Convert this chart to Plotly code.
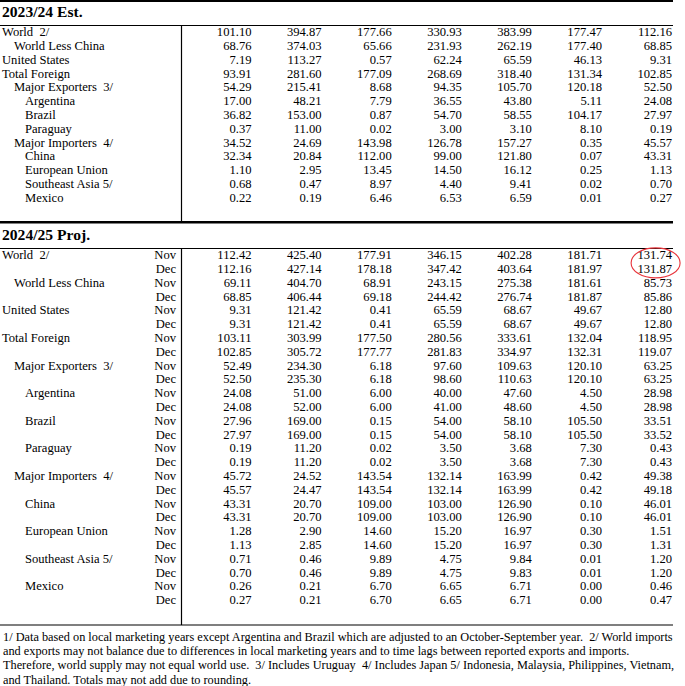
import plotly.graph_objects as go

# row labels and indent level (0 = flush left)
row_labels = ["World  2/", "World Less China", "United States", "Total Foreign",
              "Major Exporters  3/", "Argentina", "Brazil", "Paraguay",
              "Major Importers  4/", "China", "European Union", "Southeast Asia 5/", "Mexico"]
row_indent = [0, 1, 0, 0, 1, 2, 2, 2, 1, 2, 2, 2, 2]

est_2324 = [
    [101.10, 394.87, 177.66, 330.93, 383.99, 177.47, 112.16],
    [68.76, 374.03, 65.66, 231.93, 262.19, 177.40, 68.85],
    [7.19, 113.27, 0.57, 62.24, 65.59, 46.13, 9.31],
    [93.91, 281.60, 177.09, 268.69, 318.40, 131.34, 102.85],
    [54.29, 215.41, 8.68, 94.35, 105.70, 120.18, 52.50],
    [17.00, 48.21, 7.79, 36.55, 43.80, 5.11, 24.08],
    [36.82, 153.00, 0.87, 54.70, 58.55, 104.17, 27.97],
    [0.37, 11.00, 0.02, 3.00, 3.10, 8.10, 0.19],
    [34.52, 24.69, 143.98, 126.78, 157.27, 0.35, 45.57],
    [32.34, 20.84, 112.00, 99.00, 121.80, 0.07, 43.31],
    [1.10, 2.95, 13.45, 14.50, 16.12, 0.25, 1.13],
    [0.68, 0.47, 8.97, 4.40, 9.41, 0.02, 0.70],
    [0.22, 0.19, 6.46, 6.53, 6.59, 0.01, 0.27],
]

proj_nov = [
    [112.42, 425.40, 177.91, 346.15, 402.28, 181.71, 131.74],
    [69.11, 404.70, 68.91, 243.15, 275.38, 181.61, 85.73],
    [9.31, 121.42, 0.41, 65.59, 68.67, 49.67, 12.80],
    [103.11, 303.99, 177.50, 280.56, 333.61, 132.04, 118.95],
    [52.49, 234.30, 6.18, 97.60, 109.63, 120.10, 63.25],
    [24.08, 51.00, 6.00, 40.00, 47.60, 4.50, 28.98],
    [27.96, 169.00, 0.15, 54.00, 58.10, 105.50, 33.51],
    [0.19, 11.20, 0.02, 3.50, 3.68, 7.30, 0.43],
    [45.72, 24.52, 143.54, 132.14, 163.99, 0.42, 49.38],
    [43.31, 20.70, 109.00, 103.00, 126.90, 0.10, 46.01],
    [1.28, 2.90, 14.60, 15.20, 16.97, 0.30, 1.51],
    [0.71, 0.46, 9.89, 4.75, 9.84, 0.01, 1.20],
    [0.26, 0.21, 6.70, 6.65, 6.71, 0.00, 0.46],
]

proj_dec = [
    [112.16, 427.14, 178.18, 347.42, 403.64, 181.97, 131.87],
    [68.85, 406.44, 69.18, 244.42, 276.74, 181.87, 85.86],
    [9.31, 121.42, 0.41, 65.59, 68.67, 49.67, 12.80],
    [102.85, 305.72, 177.77, 281.83, 334.97, 132.31, 119.07],
    [52.50, 235.30, 6.18, 98.60, 110.63, 120.10, 63.25],
    [24.08, 52.00, 6.00, 41.00, 48.60, 4.50, 28.98],
    [27.97, 169.00, 0.15, 54.00, 58.10, 105.50, 33.52],
    [0.19, 11.20, 0.02, 3.50, 3.68, 7.30, 0.43],
    [45.57, 24.47, 143.54, 132.14, 163.99, 0.42, 49.18],
    [43.31, 20.70, 109.00, 103.00, 126.90, 0.10, 46.01],
    [1.13, 2.85, 14.60, 15.20, 16.97, 0.30, 1.31],
    [0.70, 0.46, 9.89, 4.75, 9.83, 0.01, 1.20],
    [0.27, 0.21, 6.70, 6.65, 6.71, 0.00, 0.47],
]

months = ["Nov", "Dec"]
section_titles = ["2023/24 Est.", "2024/25 Proj."]

footnotes = [
    "1/ Data based on local marketing years except Argentina and Brazil which are adjusted to an October-September year.  2/ World imports",
    "and exports may not balance due to differences in local marketing years and to time lags between reported exports and imports.",
    "Therefore, world supply may not equal world use.  3/ Includes Uruguay  4/ Includes Japan 5/ Indonesia, Malaysia, Philippines, Vietnam,",
    "and Thailand. Totals may not add due to rounding.",
]

# layout constants (pixel units on the axes)
W, H = 685, 686
FONT = "Liberation Serif"
FS = 12.6
col_right = [251.5 + 70.1 * i for i in range(7)]
indent_x = [2, 14, 25]
pitch = 13.8
sec1_top, sec2_top = 33, 256
month_x = 176
vline_x = 181.5
table_right = 673

fig = go.Figure()

def add_text(xs, ys, texts, pos, size=FS, bold=False, color="black"):
    fig.add_trace(go.Scatter(
        x=xs, y=ys, text=texts, mode="text", textposition=pos,
        textfont=dict(family=FONT, size=size, color=color,
                      weight="bold" if bold else "normal"),
        hoverinfo="skip", showlegend=False, cliponaxis=False))

# section 1
ys1 = [sec1_top + i * pitch for i in range(len(row_labels))]
add_text([indent_x[k] for k in row_indent], ys1, row_labels, "middle right")
for c in range(7):
    add_text([col_right[c]] * len(ys1), ys1, ["%.2f" % r[c] for r in est_2324], "middle left")

# section 2 (Nov / Dec pairs)
ys2, lab2, mon2, vals2 = [], [], [], []
for i, lab in enumerate(row_labels):
    for m, src in enumerate([proj_nov, proj_dec]):
        ys2.append(sec2_top + (2 * i + m) * pitch)
        lab2.append(lab if m == 0 else "")
        mon2.append(months[m])
        vals2.append(src[i])
add_text([indent_x[row_indent[i // 2]] for i in range(len(ys2))], ys2, lab2, "middle right")
add_text([month_x] * len(ys2), ys2, mon2, "middle left")
for c in range(7):
    add_text([col_right[c]] * len(ys2), ys2, ["%.2f" % v[c] for v in vals2], "middle left")

# section titles
add_text([2, 2], [13.5, 236.5], section_titles, "middle right", size=15.6, bold=True)

# footnotes
add_text([3] * len(footnotes), [638 + i * 14.2 for i in range(len(footnotes))],
         footnotes, "middle right", size=12.3)

lines = [
    (0, 1, table_right, 1, 2.2),
    (0, 25.5, table_right, 25.5, 1.2),
    (vline_x, 25.5, vline_x, 222, 1.2),
    (0, 222.3, table_right, 222.3, 2.6),
    (0, 248.5, table_right, 248.5, 1.2),
    (vline_x, 248.5, vline_x, 625, 1.2),
    (0, 625, table_right, 625, 1.2),
]
for x0, y0, x1, y1, w in lines:
    fig.add_shape(type="line", x0=x0, y0=y0, x1=x1, y1=y1, xref="x", yref="y",
                  line=dict(color="black", width=w))

# red highlight around World 2024/25 last column
cx = col_right[6] - 17
cy = sec2_top + pitch / 2
fig.add_shape(type="circle", x0=cx - 24, x1=cx + 25, y0=cy - 15, y1=cy + 15,
              xref="x", yref="y", line=dict(color="#e8333a", width=1.1))

fig.update_layout(
    width=W, height=H, margin=dict(l=0, r=0, t=0, b=0),
    paper_bgcolor="white", plot_bgcolor="white",
    xaxis=dict(range=[0, W], visible=False, fixedrange=True),
    yaxis=dict(range=[H, 0], visible=False, fixedrange=True),
)

fig.write_html("out.html", config={"displayModeBar": False},
               post_script="document.body.style.margin='0';document.body.style.overflow='hidden';")
